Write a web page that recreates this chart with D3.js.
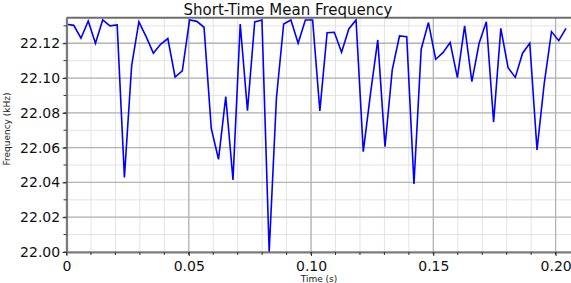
<!DOCTYPE html>
<html>
<head>
<meta charset="utf-8">
<script src="https://cdn.jsdelivr.net/npm/d3@7.9.0/dist/d3.min.js"></script>
<style>
  body { margin: 0; background: #fff; }
  svg { display: block; font-family: "DejaVu Sans", sans-serif; }
</style>
</head>
<body>
<svg id="chart" width="571" height="283"></svg>
<script>
// time of each frame (s)
let times = [
  0, 0.00296, 0.00592, 0.00888, 0.01184, 0.0148, 0.01776, 0.02072, 0.02368, 0.02664,
  0.0296, 0.03256, 0.03552, 0.03848, 0.04144, 0.0444, 0.04736, 0.05032, 0.05328, 0.05624,
  0.0592, 0.06216, 0.06512, 0.06808, 0.07104, 0.074, 0.07696, 0.07992, 0.08288, 0.08584,
  0.0888, 0.09176, 0.09472, 0.09768, 0.10064, 0.1036, 0.10656, 0.10952, 0.11248, 0.11544,
  0.1184, 0.12136, 0.12432, 0.12728, 0.13024, 0.1332, 0.13616, 0.13912, 0.14208, 0.14504,
  0.148, 0.15096, 0.15392, 0.15688, 0.15984, 0.1628, 0.16576, 0.16872, 0.17168, 0.17464,
  0.1776, 0.18056, 0.18352, 0.18648, 0.18944, 0.1924, 0.19536, 0.19832, 0.20128, 0.20424
];

// mean frequency (kHz)
let freqs = [
  22.1309, 22.1303, 22.1229, 22.1328, 22.1200, 22.1334, 22.1300, 22.1305, 22.0429, 22.1071,
  22.1323, 22.1238, 22.1143, 22.1194, 22.1227, 22.1006, 22.1041, 22.1334, 22.1326, 22.1292,
  22.0711, 22.0533, 22.0893, 22.0414, 22.1311, 22.0812, 22.1323, 22.1334, 22.0000, 22.0884,
  22.1311, 22.1334, 22.1200, 22.1334, 22.1334, 22.0811, 22.1261, 22.1263, 22.1148, 22.1282,
  22.1334, 22.0577, 22.0912, 22.1219, 22.0606, 22.1047, 22.1242, 22.1238, 22.0391, 22.1166,
  22.1319, 22.1108, 22.1146, 22.1204, 22.1002, 22.1300, 22.0979, 22.1200, 22.1324, 22.0747,
  22.1286, 22.1060, 22.1004, 22.1143, 22.1200, 22.0587, 22.0970, 22.1267, 22.1215, 22.1286
];

let xTicks = [0, 0.05, 0.10, 0.15, 0.20];
let yTicks = [22.00, 22.02, 22.04, 22.06, 22.08, 22.10, 22.12];
let xMinor = d3.range(0, 21).map(i => i / 100);
let yMinor = d3.range(0, 14).map(i => 22 + i / 100);

let data = times.map((t, i) => ({ t: t, f: freqs[i] }));

let svg = d3.select('#chart');
let plotLeft = 66.5, plotRight = 571.5, plotTop = 17.7, plotBottom = 252;

let x = d3.scaleLinear().domain([0, 0.2065]).range([plotLeft, plotRight]);
let y = d3.scaleLinear().domain([22.0, 22.1347]).range([plotBottom, plotTop]);

// minor grid
svg.append('g')
  .selectAll('line')
  .data(xMinor)
  .join('line')
  .attr('x1', d => x(d)).attr('x2', d => x(d))
  .attr('y1', plotTop).attr('y2', plotBottom)
  .attr('stroke', '#e3e3e3').attr('stroke-width', 1);

svg.append('g')
  .selectAll('line')
  .data(yMinor)
  .join('line')
  .attr('x1', plotLeft).attr('x2', plotRight)
  .attr('y1', d => y(d)).attr('y2', d => y(d))
  .attr('stroke', '#e3e3e3').attr('stroke-width', 1);

// major grid
svg.append('g')
  .selectAll('line')
  .data(xTicks)
  .join('line')
  .attr('x1', d => x(d)).attr('x2', d => x(d))
  .attr('y1', plotTop).attr('y2', plotBottom)
  .attr('stroke', '#b4b4b4').attr('stroke-width', 1.3);

svg.append('g')
  .selectAll('line')
  .data(yTicks)
  .join('line')
  .attr('x1', plotLeft).attr('x2', plotRight)
  .attr('y1', d => y(d)).attr('y2', d => y(d))
  .attr('stroke', '#b4b4b4').attr('stroke-width', 1.3);

// data line
svg.append('path')
  .datum(data)
  .attr('fill', 'none')
  .attr('stroke', '#0000ff')
  .attr('stroke-width', 1.6)
  .attr('stroke-linejoin', 'miter')
  .attr('d', d3.line().x(d => x(d.t)).y(d => y(d.f)));

// top border
svg.append('line')
  .attr('x1', plotLeft).attr('x2', plotRight)
  .attr('y1', plotTop).attr('y2', plotTop)
  .attr('stroke', '#6e6e6e').attr('stroke-width', 2);

// axes
let xAxis = svg.append('g')
  .attr('transform', `translate(0,${plotBottom})`)
  .call(d3.axisBottom(x).tickValues(xTicks).tickSize(4).tickSizeOuter(0)
    .tickFormat(d => d === 0 ? '0' : d3.format('.2f')(d)));
xAxis.append('g')
  .selectAll('line')
  .data(xMinor)
  .join('line')
  .attr('x1', d => x(d)).attr('x2', d => x(d))
  .attr('y1', 0).attr('y2', 3)
  .attr('stroke', '#333');

let yAxis = svg.append('g')
  .attr('transform', `translate(${plotLeft},0)`)
  .call(d3.axisLeft(y).tickValues(yTicks).tickSize(4).tickSizeOuter(0)
    .tickFormat(d3.format('.2f')));
yAxis.append('g')
  .selectAll('line')
  .data(yMinor)
  .join('line')
  .attr('x1', 0).attr('x2', -3)
  .attr('y1', d => y(d)).attr('y2', d => y(d))
  .attr('stroke', '#333');

[xAxis, yAxis].forEach(a => {
  a.select('.domain').attr('stroke', '#7a7a7a').attr('stroke-width', 2.2);
  a.selectAll('.tick line').attr('stroke', '#333');
  a.selectAll('.tick text')
    .attr('font-family', '"DejaVu Sans", sans-serif')
    .attr('font-size', 14)
    .attr('fill', '#111');
});
xAxis.selectAll('.tick text').attr('dy', '0.86em');
yAxis.selectAll('.tick text').attr('dx', '0.05em');

// title and labels
svg.append('text')
  .attr('x', 288).attr('y', 14.5)
  .attr('text-anchor', 'middle')
  .attr('font-size', 15)
  .attr('fill', '#111')
  .text('Short-Time Mean Frequency');

svg.append('text')
  .attr('x', 319).attr('y', 281.5)
  .attr('text-anchor', 'middle')
  .attr('font-size', 9)
  .attr('fill', '#222')
  .text('Time (s)');

svg.append('text')
  .attr('transform', 'translate(10,129) rotate(-90)')
  .attr('text-anchor', 'middle')
  .attr('font-size', 9)
  .attr('fill', '#222')
  .text('Frequency (kHz)');
</script>
</body>
</html>
